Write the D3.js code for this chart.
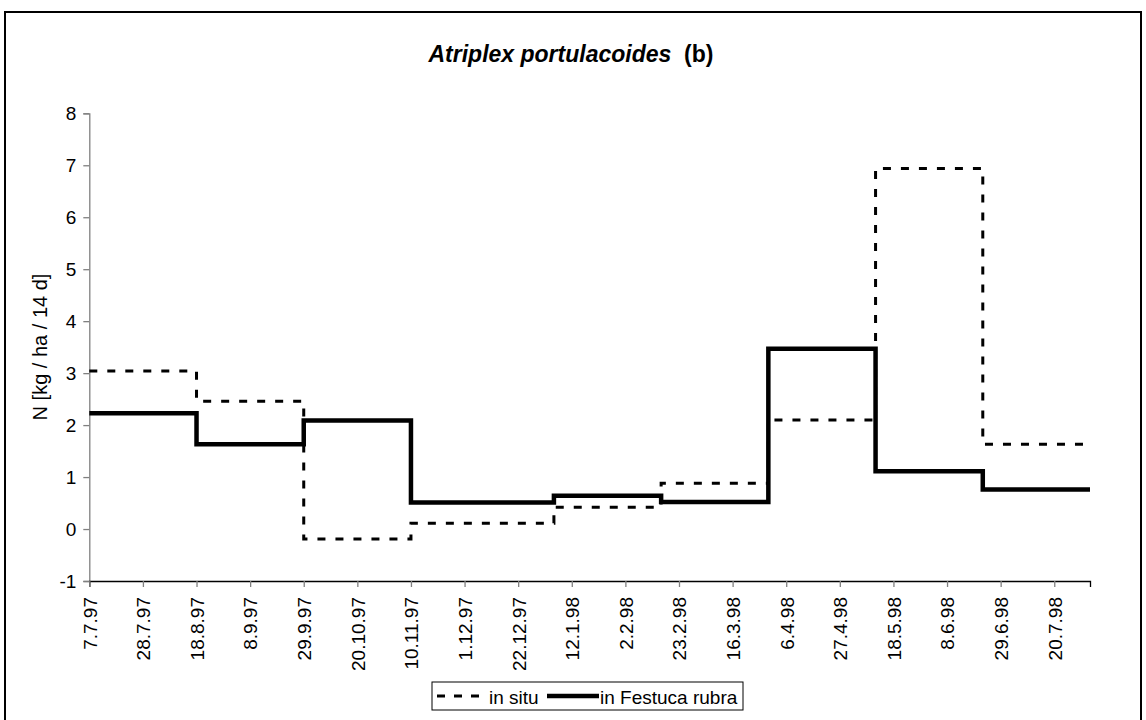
<!DOCTYPE html>
<html>
<head>
<meta charset="utf-8">
<script src="https://cdnjs.cloudflare.com/ajax/libs/d3/7.8.5/d3.min.js"></script>
<style>
  html, body { margin: 0; padding: 0; background: #fff; }
  svg { display: block; font-family: Arial, "Liberation Sans", sans-serif; }
</style>
</head>
<body>
<script>
// ---- data ----
const periodStarts = ["7.7.97", "18.8.97", "29.9.97", "10.11.97", "5.1.98", "16.2.98", "30.3.98", "11.5.98", "22.6.98"];
const periodEnd = "3.8.98";
const inSitu = [3.04, 2.46, -0.19, 0.11, 0.42, 0.88, 2.10, 6.94, 1.63];
const festuca = [2.23, 1.63, 2.09, 0.51, 0.64, 0.52, 3.47, 1.11, 0.76];
const xTickLabels = ["7.7.97", "28.7.97", "18.8.97", "8.9.97", "29.9.97", "20.10.97", "10.11.97", "1.12.97", "22.12.97",
  "12.1.98", "2.2.98", "23.2.98", "16.3.98", "6.4.98", "27.4.98", "18.5.98", "8.6.98", "29.6.98", "20.7.98"];
const yTicks = [-1, 0, 1, 2, 3, 4, 5, 6, 7, 8];
const seriesNames = ["in situ", "in Festuca rubra"];
const titleItalic = "Atriplex portulacoides";
const titleRest = "(b)";
const yTitle = "N [kg / ha / 14 d]";

// ---- layout ----
const W = 1146, H = 720;
const plot = { left: 89.3, right: 1090, top: 113.3, bottom: 581 };

const parse = d3.utcParse("%d.%m.%y");

const svg = d3.select("body").append("svg").attr("width", W).attr("height", H);

// outer border
svg.append("rect").attr("x", 5).attr("y", 12).attr("width", 1136).attr("height", 740)
  .attr("fill", "none").attr("stroke", "#000").attr("stroke-width", 2);

const x = d3.scaleUtc()
  .domain([parse(periodStarts[0]), parse(periodEnd)])
  .range([plot.left, plot.right]);
const y = d3.scaleLinear().domain([-1, 8]).range([plot.bottom, plot.top]);

// title
const t = svg.append("text").attr("x", 571).attr("y", 62).attr("text-anchor", "middle")
  .attr("font-size", 23).attr("font-weight", "bold");
t.append("tspan").attr("font-style", "italic").text(titleItalic);
t.append("tspan").text("\u00a0\u00a0" + titleRest);

// y axis
const yAxis = svg.append("g").attr("transform", `translate(${plot.left},0)`)
  .call(d3.axisLeft(y).tickValues(yTicks).tickSize(6).tickPadding(7).tickFormat(d => String(d)));
yAxis.select(".domain").attr("stroke", "#808080").attr("stroke-width", 1.3);
yAxis.selectAll(".tick line").attr("stroke", "#808080").attr("stroke-width", 1.3);
yAxis.selectAll(".tick text").attr("font-size", 19).attr("fill", "#000")
  .attr("font-family", "Arial, 'Liberation Sans', sans-serif");

// x axis
const xAxis = svg.append("g").attr("transform", `translate(0,${plot.bottom})`)
  .call(d3.axisBottom(x).tickValues(xTickLabels.map(parse)).tickSize(6)
    .tickFormat((d, i) => xTickLabels[i]));
xAxis.select(".domain").attr("stroke", "#000").attr("stroke-width", 1.3);
xAxis.selectAll(".tick line").attr("stroke", "#808080").attr("stroke-width", 1.3);
xAxis.selectAll(".tick text")
  .attr("font-size", 19).attr("fill", "#000")
  .attr("font-family", "Arial, 'Liberation Sans', sans-serif")
  .attr("text-anchor", "end")
  .attr("transform", "rotate(-90)")
  .attr("x", -16).attr("y", 0).attr("dy", "0.36em");

// y title
svg.append("text").attr("transform", "translate(40,347) rotate(-90)")
  .attr("text-anchor", "middle").attr("dy", "0.35em")
  .attr("font-size", 20).text(yTitle);

// step lines
function stepData(vals) {
  const pts = periodStarts.map((s, i) => ({ d: parse(s), v: vals[i] }));
  pts.push({ d: parse(periodEnd), v: vals[vals.length - 1] });
  return pts;
}
const line = d3.line().x(p => x(p.d)).y(p => y(p.v)).curve(d3.curveStepAfter);

svg.append("path").datum(stepData(inSitu)).attr("d", line)
  .attr("fill", "none").attr("stroke", "#000").attr("stroke-width", 3)
  .attr("stroke-dasharray", "8,10");
svg.append("path").datum(stepData(festuca)).attr("d", line)
  .attr("fill", "none").attr("stroke", "#000").attr("stroke-width", 4.5)
  .attr("stroke-linejoin", "miter");

// legend
const lg = svg.append("g");
lg.append("rect").attr("x", 432).attr("y", 682).attr("width", 311).attr("height", 28)
  .attr("fill", "#fff").attr("stroke", "#000").attr("stroke-width", 1);
lg.append("line").attr("x1", 437).attr("x2", 479).attr("y1", 696).attr("y2", 696)
  .attr("stroke", "#000").attr("stroke-width", 3).attr("stroke-dasharray", "8,9");
lg.append("text").attr("x", 489).attr("y", 703.5).attr("font-size", 19).text(seriesNames[0]);
lg.append("line").attr("x1", 547).attr("x2", 599).attr("y1", 696).attr("y2", 696)
  .attr("stroke", "#000").attr("stroke-width", 4.5);
lg.append("text").attr("x", 600).attr("y", 703.5).attr("font-size", 19).text(seriesNames[1]);
</script>
</body>
</html>
